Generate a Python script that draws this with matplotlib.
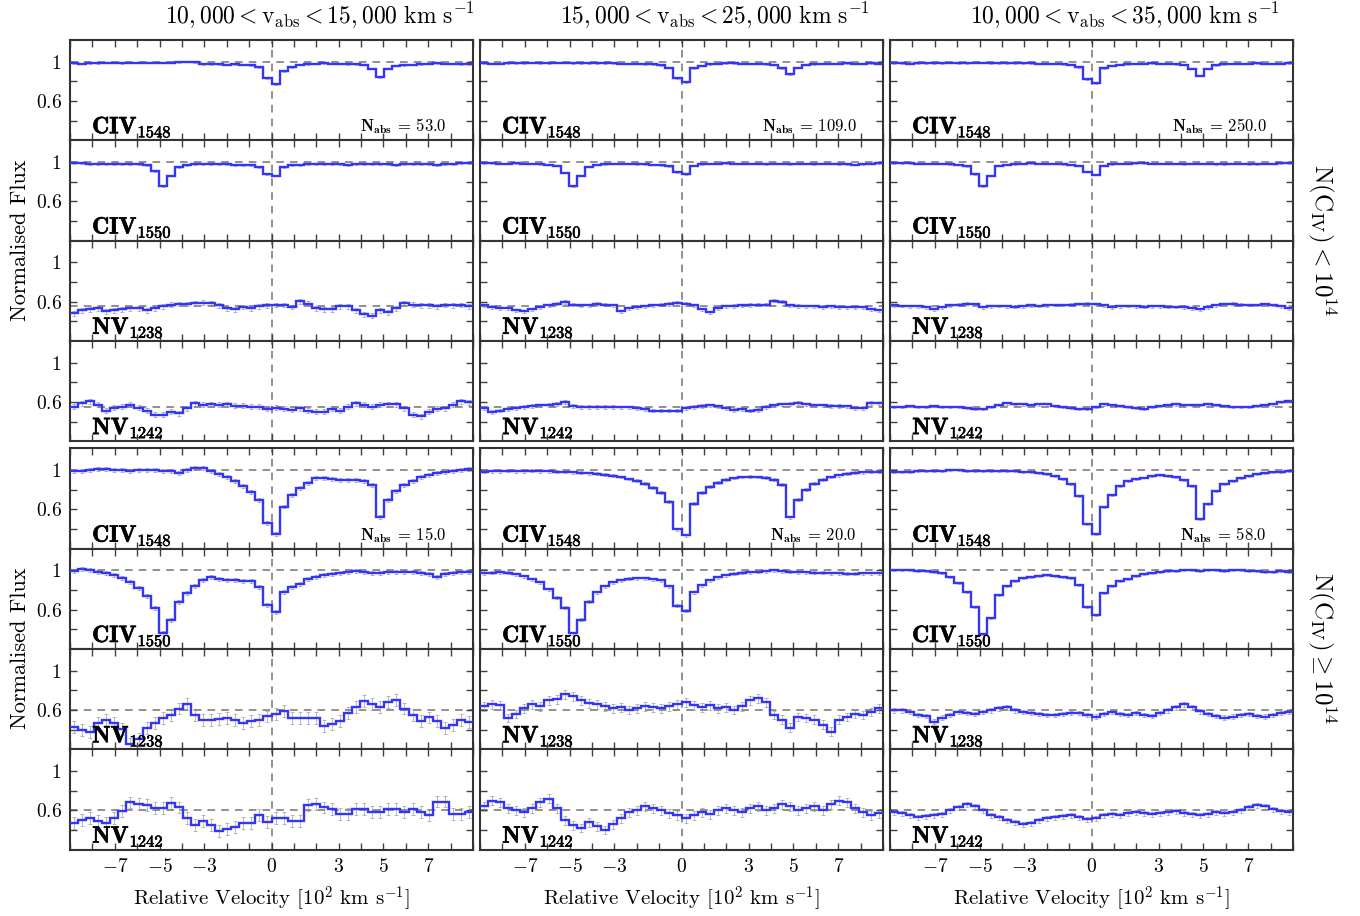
import numpy as np
import matplotlib.pyplot as plt
import matplotlib.patheffects as pe

plt.rcParams['mathtext.fontset'] = 'cm'
plt.rcParams['font.family'] = 'serif'
plt.rcParams['font.serif'] = ['cmr10', 'DejaVu Serif']
plt.rcParams['axes.unicode_minus'] = False
plt.rcParams['axes.formatter.use_mathtext'] = True

# velocity bins [10^2 km/s]
v_edges = np.linspace(-9, 9, 51)
v_mid = 0.5 * (v_edges[1:] + v_edges[:-1])

col_titles = [r'$10,000 < \mathrm{v_{abs}} < 15,000\ \mathrm{km\ s^{-1}}$',
              r'$15,000 < \mathrm{v_{abs}} < 25,000\ \mathrm{km\ s^{-1}}$',
              r'$10,000 < \mathrm{v_{abs}} < 35,000\ \mathrm{km\ s^{-1}}$']
line_labels = [r'$\mathbf{CIV}_{\mathbf{1548}}$', r'$\mathbf{CIV}_{\mathbf{1550}}$',
               r'$\mathbf{NV}_{\mathbf{1238}}$', r'$\mathbf{NV}_{\mathbf{1242}}$']
group_labels = [r'$\mathrm{N(C_{IV})} < 10^{14}$', r'$\mathrm{N(C_{IV})} \geq 10^{14}$']
nabs_low = [53.0, 109.0, 250.0]
nabs_high = [15.0, 20.0, 58.0]
nv_level = [0.55, 0.60]
xtick_vals = [-7, -5, -3, 0, 3, 5, 7]

# ---------------- N(CIV) < 1e14 ----------------
lo1_c1548 = [0.985, 0.98, 0.985, 0.985, 0.99, 0.99, 0.985, 0.99, 0.99, 0.99,
             0.99, 0.99, 0.99, 0.995, 1.0, 0.995, 0.975, 0.975, 0.975, 0.97,
             0.975, 0.97, 0.965, 0.945, 0.83, 0.775, 0.90, 0.945, 0.97, 0.975,
             0.98, 0.985, 0.98, 0.98, 0.975, 0.975, 0.97, 0.93, 0.84, 0.93,
             0.96, 0.965, 0.97, 0.975, 0.98, 0.985, 0.98, 0.98, 0.975, 0.975]
lo1_c1550 = [0.99, 0.985, 0.98, 0.98, 0.98, 0.98, 0.975, 0.975, 0.975, 0.97,
             0.905, 0.755, 0.86, 0.95, 0.965, 0.975, 0.98, 0.98, 0.975, 0.975,
             0.97, 0.97, 0.965, 0.95, 0.875, 0.86, 0.95, 0.965, 0.97, 0.975,
             0.975, 0.98, 0.975, 0.975, 0.97, 0.975, 0.98, 0.975, 0.975, 0.975,
             0.97, 0.975, 0.975, 0.98, 0.975, 0.97, 0.975, 0.98, 0.985, 0.985]
lo1_n1238 = [0.48, 0.51, 0.52, 0.53, 0.50, 0.51, 0.52, 0.53, 0.53, 0.51,
             0.53, 0.55, 0.57, 0.575, 0.575, 0.585, 0.59, 0.585, 0.56, 0.53,
             0.52, 0.545, 0.53, 0.55, 0.56, 0.565, 0.565, 0.545, 0.605, 0.58,
             0.53, 0.52, 0.52, 0.55, 0.55, 0.51, 0.47, 0.457, 0.51, 0.49,
             0.53, 0.585, 0.57, 0.56, 0.56, 0.55, 0.565, 0.56, 0.565, 0.55]
lo1_n1242 = [0.55, 0.585, 0.605, 0.57, 0.51, 0.54, 0.55, 0.57, 0.54, 0.51,
             0.47, 0.47, 0.50, 0.485, 0.535, 0.585, 0.57, 0.575, 0.57, 0.575,
             0.56, 0.56, 0.55, 0.55, 0.53, 0.54, 0.53, 0.52, 0.535, 0.51,
             0.50, 0.50, 0.53, 0.51, 0.55, 0.585, 0.57, 0.55, 0.57, 0.575,
             0.575, 0.535, 0.47, 0.455, 0.50, 0.53, 0.535, 0.57, 0.605, 0.595]

lo2_c1548 = [0.985, 0.98, 0.98, 0.985, 0.985, 0.985, 0.99, 0.985, 0.985, 0.99,
             0.99, 0.985, 0.985, 0.985, 0.985, 0.985, 0.985, 0.98, 0.98, 0.98,
             0.975, 0.975, 0.965, 0.94, 0.83, 0.79, 0.935, 0.96, 0.975, 0.98,
             0.985, 0.985, 0.98, 0.98, 0.98, 0.975, 0.97, 0.935, 0.875, 0.94,
             0.97, 0.975, 0.98, 0.98, 0.98, 0.985, 0.98, 0.98, 0.985, 0.98]
lo2_c1550 = [0.985, 0.985, 0.98, 0.98, 0.985, 0.98, 0.98, 0.975, 0.97, 0.96,
             0.89, 0.755, 0.86, 0.95, 0.97, 0.975, 0.98, 0.98, 0.98, 0.975,
             0.975, 0.97, 0.965, 0.955, 0.895, 0.875, 0.96, 0.975, 0.98, 0.98,
             0.985, 0.98, 0.98, 0.98, 0.98, 0.975, 0.98, 0.98, 0.975, 0.98,
             0.98, 0.975, 0.98, 0.98, 0.975, 0.975, 0.97, 0.975, 0.98, 0.985]
lo2_n1238 = [0.56, 0.545, 0.53, 0.535, 0.51, 0.50, 0.52, 0.54, 0.56, 0.58,
             0.595, 0.57, 0.56, 0.56, 0.58, 0.57, 0.56, 0.50, 0.53, 0.545,
             0.55, 0.56, 0.57, 0.575, 0.585, 0.575, 0.56, 0.52, 0.49, 0.535,
             0.55, 0.555, 0.56, 0.565, 0.57, 0.57, 0.61, 0.60, 0.56, 0.555,
             0.55, 0.55, 0.545, 0.55, 0.54, 0.54, 0.545, 0.54, 0.52, 0.51]
lo2_n1242 = [0.535, 0.495, 0.51, 0.53, 0.54, 0.55, 0.56, 0.565, 0.57, 0.58,
             0.60, 0.56, 0.55, 0.55, 0.55, 0.55, 0.55, 0.545, 0.545, 0.535,
             0.53, 0.51, 0.51, 0.51, 0.51, 0.54, 0.55, 0.56, 0.565, 0.555,
             0.54, 0.52, 0.53, 0.51, 0.52, 0.55, 0.565, 0.575, 0.58, 0.59,
             0.575, 0.565, 0.565, 0.56, 0.56, 0.555, 0.54, 0.54, 0.59, 0.585]

lo3_c1548 = [0.985, 0.985, 0.98, 0.985, 0.985, 0.985, 0.985, 0.99, 0.985, 0.985,
             0.99, 0.99, 0.985, 0.985, 0.985, 0.985, 0.985, 0.985, 0.98, 0.98,
             0.98, 0.975, 0.97, 0.945, 0.82, 0.78, 0.935, 0.96, 0.97, 0.975,
             0.98, 0.98, 0.985, 0.98, 0.98, 0.975, 0.97, 0.93, 0.855, 0.93,
             0.965, 0.975, 0.98, 0.98, 0.98, 0.985, 0.98, 0.98, 0.98, 0.985]
lo3_c1550 = [0.985, 0.985, 0.985, 0.98, 0.98, 0.98, 0.98, 0.975, 0.97, 0.955,
             0.875, 0.755, 0.86, 0.96, 0.97, 0.975, 0.98, 0.985, 0.98, 0.98,
             0.98, 0.975, 0.97, 0.96, 0.90, 0.87, 0.96, 0.975, 0.98, 0.98,
             0.985, 0.985, 0.98, 0.98, 0.98, 0.98, 0.975, 0.98, 0.98, 0.98,
             0.975, 0.975, 0.98, 0.98, 0.975, 0.975, 0.98, 0.98, 0.985, 0.985]
lo3_n1238 = [0.56, 0.555, 0.55, 0.55, 0.54, 0.52, 0.54, 0.56, 0.57, 0.58,
             0.575, 0.54, 0.55, 0.555, 0.55, 0.545, 0.55, 0.56, 0.555, 0.56,
             0.565, 0.565, 0.57, 0.575, 0.58, 0.575, 0.56, 0.54, 0.55, 0.555,
             0.55, 0.545, 0.55, 0.55, 0.545, 0.545, 0.54, 0.53, 0.52, 0.54,
             0.56, 0.575, 0.58, 0.57, 0.565, 0.565, 0.575, 0.565, 0.55, 0.53]
lo3_n1242 = [0.55, 0.55, 0.555, 0.55, 0.55, 0.555, 0.55, 0.55, 0.545, 0.54,
             0.525, 0.53, 0.55, 0.57, 0.585, 0.58, 0.575, 0.57, 0.575, 0.575,
             0.56, 0.55, 0.54, 0.53, 0.525, 0.55, 0.575, 0.57, 0.56, 0.55,
             0.54, 0.53, 0.545, 0.555, 0.565, 0.575, 0.57, 0.565, 0.57, 0.575,
             0.57, 0.56, 0.545, 0.545, 0.55, 0.555, 0.565, 0.575, 0.60, 0.61]

# ---------------- N(CIV) >= 1e14 ----------------
hi1_c1548 = [0.99, 0.99, 1.0, 1.01, 1.01, 1.0, 1.0, 0.995, 1.0, 1.0,
             1.0, 0.995, 0.99, 0.975, 1.0, 1.02, 1.02, 0.99, 0.96, 0.93,
             0.89, 0.84, 0.78, 0.70, 0.46, 0.35, 0.63, 0.75, 0.82, 0.87,
             0.92, 0.92, 0.91, 0.90, 0.90, 0.90, 0.89, 0.85, 0.52, 0.70,
             0.79, 0.845, 0.89, 0.93, 0.95, 0.97, 0.98, 0.99, 1.0, 1.01]
hi1_c1550 = [0.99, 1.01, 1.0, 0.985, 0.975, 0.95, 0.92, 0.88, 0.82, 0.74,
             0.62, 0.36, 0.50, 0.68, 0.77, 0.84, 0.90, 0.93, 0.91, 0.90,
             0.90, 0.895, 0.89, 0.83, 0.65, 0.58, 0.78, 0.83, 0.865, 0.91,
             0.93, 0.95, 0.96, 0.97, 0.98, 0.99, 0.985, 0.975, 0.97, 0.98,
             0.985, 0.98, 0.985, 0.975, 0.96, 0.93, 0.965, 0.97, 0.98, 0.985]
hi1_n1238 = [0.43, 0.40, 0.38, 0.47, 0.495, 0.47, 0.405, 0.255, 0.31, 0.42,
             0.47, 0.52, 0.545, 0.615, 0.665, 0.55, 0.50, 0.50, 0.51, 0.52,
             0.50, 0.47, 0.49, 0.50, 0.535, 0.56, 0.59, 0.52, 0.52, 0.52,
             0.52, 0.44, 0.46, 0.49, 0.57, 0.63, 0.695, 0.665, 0.63, 0.68,
             0.705, 0.615, 0.55, 0.49, 0.525, 0.49, 0.415, 0.45, 0.50, 0.48]
hi1_n1242 = [0.47, 0.50, 0.525, 0.49, 0.47, 0.52, 0.59, 0.68, 0.665, 0.655,
             0.62, 0.62, 0.675, 0.63, 0.52, 0.455, 0.49, 0.455, 0.39, 0.41,
             0.43, 0.47, 0.47, 0.55, 0.485, 0.52, 0.52, 0.495, 0.495, 0.655,
             0.665, 0.63, 0.615, 0.565, 0.565, 0.61, 0.61, 0.585, 0.585, 0.61,
             0.61, 0.585, 0.61, 0.585, 0.55, 0.69, 0.69, 0.565, 0.565, 0.585]

hi2_c1548 = [0.985, 0.99, 0.99, 0.995, 0.99, 0.99, 0.995, 0.99, 0.99, 0.985,
             0.985, 0.98, 0.975, 0.97, 0.965, 0.955, 0.945, 0.93, 0.91, 0.89,
             0.86, 0.82, 0.77, 0.68, 0.40, 0.34, 0.66, 0.77, 0.83, 0.87,
             0.90, 0.92, 0.93, 0.935, 0.93, 0.925, 0.90, 0.85, 0.52, 0.70,
             0.80, 0.86, 0.90, 0.93, 0.95, 0.965, 0.975, 0.98, 0.985, 0.985]
hi2_c1550 = [0.97, 0.975, 0.98, 0.975, 0.96, 0.94, 0.91, 0.88, 0.81, 0.72,
             0.62, 0.36, 0.50, 0.68, 0.78, 0.84, 0.88, 0.90, 0.915, 0.92,
             0.92, 0.91, 0.90, 0.84, 0.64, 0.59, 0.78, 0.85, 0.90, 0.93,
             0.95, 0.965, 0.975, 0.98, 0.985, 0.99, 1.0, 0.99, 0.985, 0.98,
             0.98, 0.975, 0.975, 0.97, 0.97, 0.965, 0.965, 0.97, 0.97, 0.97]
hi2_n1238 = [0.64, 0.66, 0.65, 0.52, 0.56, 0.62, 0.66, 0.64, 0.70, 0.71,
             0.76, 0.74, 0.70, 0.67, 0.66, 0.64, 0.62, 0.63, 0.60, 0.62,
             0.64, 0.63, 0.62, 0.64, 0.66, 0.68, 0.65, 0.63, 0.65, 0.62,
             0.63, 0.60, 0.64, 0.70, 0.72, 0.68, 0.55, 0.50, 0.42, 0.53,
             0.52, 0.50, 0.45, 0.38, 0.50, 0.53, 0.56, 0.55, 0.58, 0.62]
hi2_n1242 = [0.64, 0.70, 0.68, 0.62, 0.60, 0.58, 0.62, 0.68, 0.72, 0.62,
             0.50, 0.45, 0.42, 0.48, 0.44, 0.40, 0.46, 0.52, 0.58, 0.60,
             0.64, 0.62, 0.60, 0.57, 0.55, 0.52, 0.55, 0.58, 0.56, 0.60,
             0.62, 0.60, 0.58, 0.62, 0.64, 0.60, 0.62, 0.66, 0.64, 0.60,
             0.62, 0.64, 0.60, 0.66, 0.70, 0.68, 0.62, 0.58, 0.55, 0.57]

hi3_c1548 = [0.985, 0.985, 0.985, 0.99, 0.99, 0.995, 0.995, 1.0, 1.0, 0.995,
             0.995, 0.99, 0.99, 0.99, 0.99, 0.99, 0.985, 0.98, 0.975, 0.96,
             0.94, 0.91, 0.86, 0.74, 0.45, 0.355, 0.62, 0.75, 0.84, 0.885,
             0.91, 0.925, 0.94, 0.95, 0.945, 0.93, 0.90, 0.84, 0.50, 0.66,
             0.785, 0.855, 0.89, 0.915, 0.94, 0.96, 0.97, 0.98, 0.985, 0.99]
hi3_c1550 = [1.0, 1.0, 1.0, 0.995, 0.99, 0.985, 0.975, 0.93, 0.87, 0.785,
             0.63, 0.355, 0.52, 0.75, 0.84, 0.89, 0.92, 0.935, 0.945, 0.95,
             0.945, 0.935, 0.92, 0.85, 0.63, 0.55, 0.77, 0.84, 0.89, 0.915,
             0.94, 0.96, 0.97, 0.98, 0.99, 0.995, 1.0, 1.0, 0.995, 1.0,
             1.0, 0.995, 1.0, 1.0, 0.995, 0.99, 0.985, 0.985, 0.99, 0.985]
hi3_n1238 = [0.60, 0.60, 0.58, 0.55, 0.54, 0.48, 0.52, 0.55, 0.58, 0.57,
             0.56, 0.58, 0.60, 0.62, 0.63, 0.60, 0.58, 0.57, 0.56, 0.55,
             0.55, 0.56, 0.57, 0.57, 0.55, 0.53, 0.56, 0.58, 0.56, 0.55,
             0.57, 0.55, 0.54, 0.57, 0.60, 0.63, 0.66, 0.63, 0.59, 0.56,
             0.54, 0.52, 0.53, 0.55, 0.56, 0.54, 0.53, 0.55, 0.57, 0.58]
hi3_n1242 = [0.58, 0.57, 0.55, 0.53, 0.54, 0.55, 0.56, 0.60, 0.63, 0.66,
             0.64, 0.60, 0.55, 0.53, 0.50, 0.48, 0.46, 0.47, 0.50, 0.52,
             0.53, 0.54, 0.55, 0.53, 0.51, 0.52, 0.55, 0.56, 0.55, 0.57,
             0.58, 0.57, 0.56, 0.57, 0.58, 0.59, 0.57, 0.56, 0.55, 0.56,
             0.58, 0.57, 0.58, 0.60, 0.63, 0.65, 0.64, 0.61, 0.59, 0.58]

# typical error bar size per panel (CIV1548, CIV1550, NV1238, NV1242)
err_lo = [[0.008, 0.008, 0.025, 0.025], [0.006, 0.006, 0.018, 0.018], [0.005, 0.005, 0.012, 0.012]]
err_hi = [[0.02, 0.02, 0.06, 0.06], [0.015, 0.015, 0.045, 0.045], [0.01, 0.01, 0.025, 0.025]]

groups = [
    ([[lo1_c1548, lo1_c1550, lo1_n1238, lo1_n1242],
      [lo2_c1548, lo2_c1550, lo2_n1238, lo2_n1242],
      [lo3_c1548, lo3_c1550, lo3_n1238, lo3_n1242]], err_lo, nabs_low),
    ([[hi1_c1548, hi1_c1550, hi1_n1238, hi1_n1242],
      [hi2_c1548, hi2_c1550, hi2_n1238, hi2_n1242],
      [hi3_c1548, hi3_c1550, hi3_n1238, hi3_n1242]], err_hi, nabs_high),
]

W, H = 1360, 916
fig = plt.figure(figsize=(W / 100, H / 100), dpi=100)
col_left = [70, 480, 890]
col_w = 403
group_top = [40, 448.5]
row_h = 100.3


def px_axes(l, t, w, h):
    return fig.add_axes([l / W, 1 - (t + h) / H, w / W, h / H])


bold_fx = [pe.withStroke(linewidth=0.45, foreground='black')]
line_col = '#3535f5'
for g, (fluxes, errs, nabs) in enumerate(groups):
    for c in range(3):
        for r in range(4):
            ax = px_axes(col_left[c], group_top[g] + r * row_h, col_w, row_h)
            flux = np.array(fluxes[c][r])
            ax.errorbar(v_mid, flux, yerr=errs[c][r], fmt='none', ecolor='0.55',
                        elinewidth=0.7, capsize=1.5, capthick=0.7, alpha=0.6, zorder=2)
            ax.stairs(flux, v_edges, baseline=None, color=line_col, lw=1.7, zorder=3)
            ax.axvline(0, color='0.45', ls=(0, (5, 4)), lw=1.1, zorder=1)
            level = 1.0 if r < 2 else nv_level[g]
            ax.axhline(level, color='0.45', ls=(0, (5, 4)), lw=1.1, zorder=1)
            ax.set_xlim(-9, 9)
            ax.set_ylim(0.2, 1.22)
            ax.set_xticks(np.arange(-9, 10))
            ax.set_yticks([0.4, 0.6, 0.8, 1.0])
            if g == 1 and r == 3:
                ax.set_xticklabels(['$%d$' % v if v in xtick_vals else '' for v in range(-9, 10)])
            else:
                ax.set_xticklabels([])
            if c == 0:
                ax.set_yticklabels(['', '$0.6$', '', '$1$'])
            else:
                ax.set_yticklabels([])
            ax.tick_params(direction='in', top=True, right=True, length=5, width=1,
                           labelsize=14, pad=6, colors='0.25', labelcolor='black')
            for sp in ax.spines.values():
                sp.set_linewidth(1.5)
                sp.set_color('0.2')
            ax.text(0.055, 0.07, line_labels[r], transform=ax.transAxes,
                    fontsize=17, va='baseline', ha='left', zorder=5, path_effects=bold_fx)
            if r == 0:
                ax.text(0.935, 0.09, r'$\mathbf{N_{abs}}$ = %.1f' % nabs[c],
                        transform=ax.transAxes, fontsize=12, va='baseline', ha='right')

# column titles and axis labels
title_x = [320, 715, 1125]
for c in range(3):
    fig.text(title_x[c] / W, 1 - 15 / H, col_titles[c], fontsize=17, ha='center', va='center')
    fig.text((col_left[c] + col_w / 2) / W, 1 - 899 / H,
             r'Relative Velocity [$10^2$ km s$^{-1}$]', fontsize=15, ha='center', va='center')

for g, yc in enumerate([240, 648]):
    fig.text(20 / W, 1 - yc / H, 'Normalised Flux', fontsize=16, rotation=90,
             ha='center', va='center')
    fig.text(1322 / W, 1 - yc / H, group_labels[g], fontsize=18, rotation=270,
             ha='center', va='center')

fig.savefig('out.png', dpi=100)
